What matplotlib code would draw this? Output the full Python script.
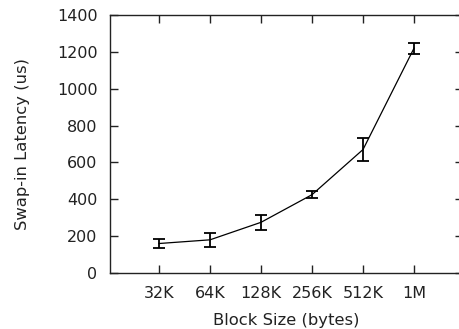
import numpy as np
import matplotlib
matplotlib.use('Agg')
import matplotlib.pyplot as plt

### DATA ###
block_sizes = ['32K', '64K', '128K', '256K', '512K', '1M']
latency = [160, 180, 275, 425, 670, 1220]
latency_err = [25, 38, 42, 18, 62, 30]
y_ticks = [0, 200, 400, 600, 800, 1000, 1200, 1400]

plt.rcParams['font.family'] = ['DejaVu Sans']

fig = plt.figure(figsize=(4.59, 3.29), dpi=100)
# right frame runs slightly past the image edge, as in the reference
ax = fig.add_axes([110 / 459, 56 / 329, 353 / 459, 258 / 329])

x = np.arange(len(block_sizes))
ax.errorbar(x, latency, yerr=latency_err, color='black', lw=0.9,
            elinewidth=1.3, capsize=4, capthick=1.3)

ax.set_xlim(-0.96, 5.96)
ax.set_ylim(0, 1400)
ax.set_xticks(x)
ax.set_xticklabels(block_sizes)
ax.set_yticks(y_ticks)

ax.tick_params(direction='in', length=6, width=1, top=True, right=True,
               labelsize=11.5, colors='#222222', pad=9)
for s in ax.spines.values():
    s.set_linewidth(1)
    s.set_color('#222222')

ax.set_xlabel('Block Size (bytes)', fontsize=11.8, color='#222222', va='center')
ax.set_ylabel('Swap-in Latency (us)', fontsize=11.8, color='#222222', va='center')
ax.xaxis.set_label_coords(0.5, -47 / 258)
ax.yaxis.set_label_coords(-87 / 353, 0.5)

fig.savefig('out.png', dpi=100)
